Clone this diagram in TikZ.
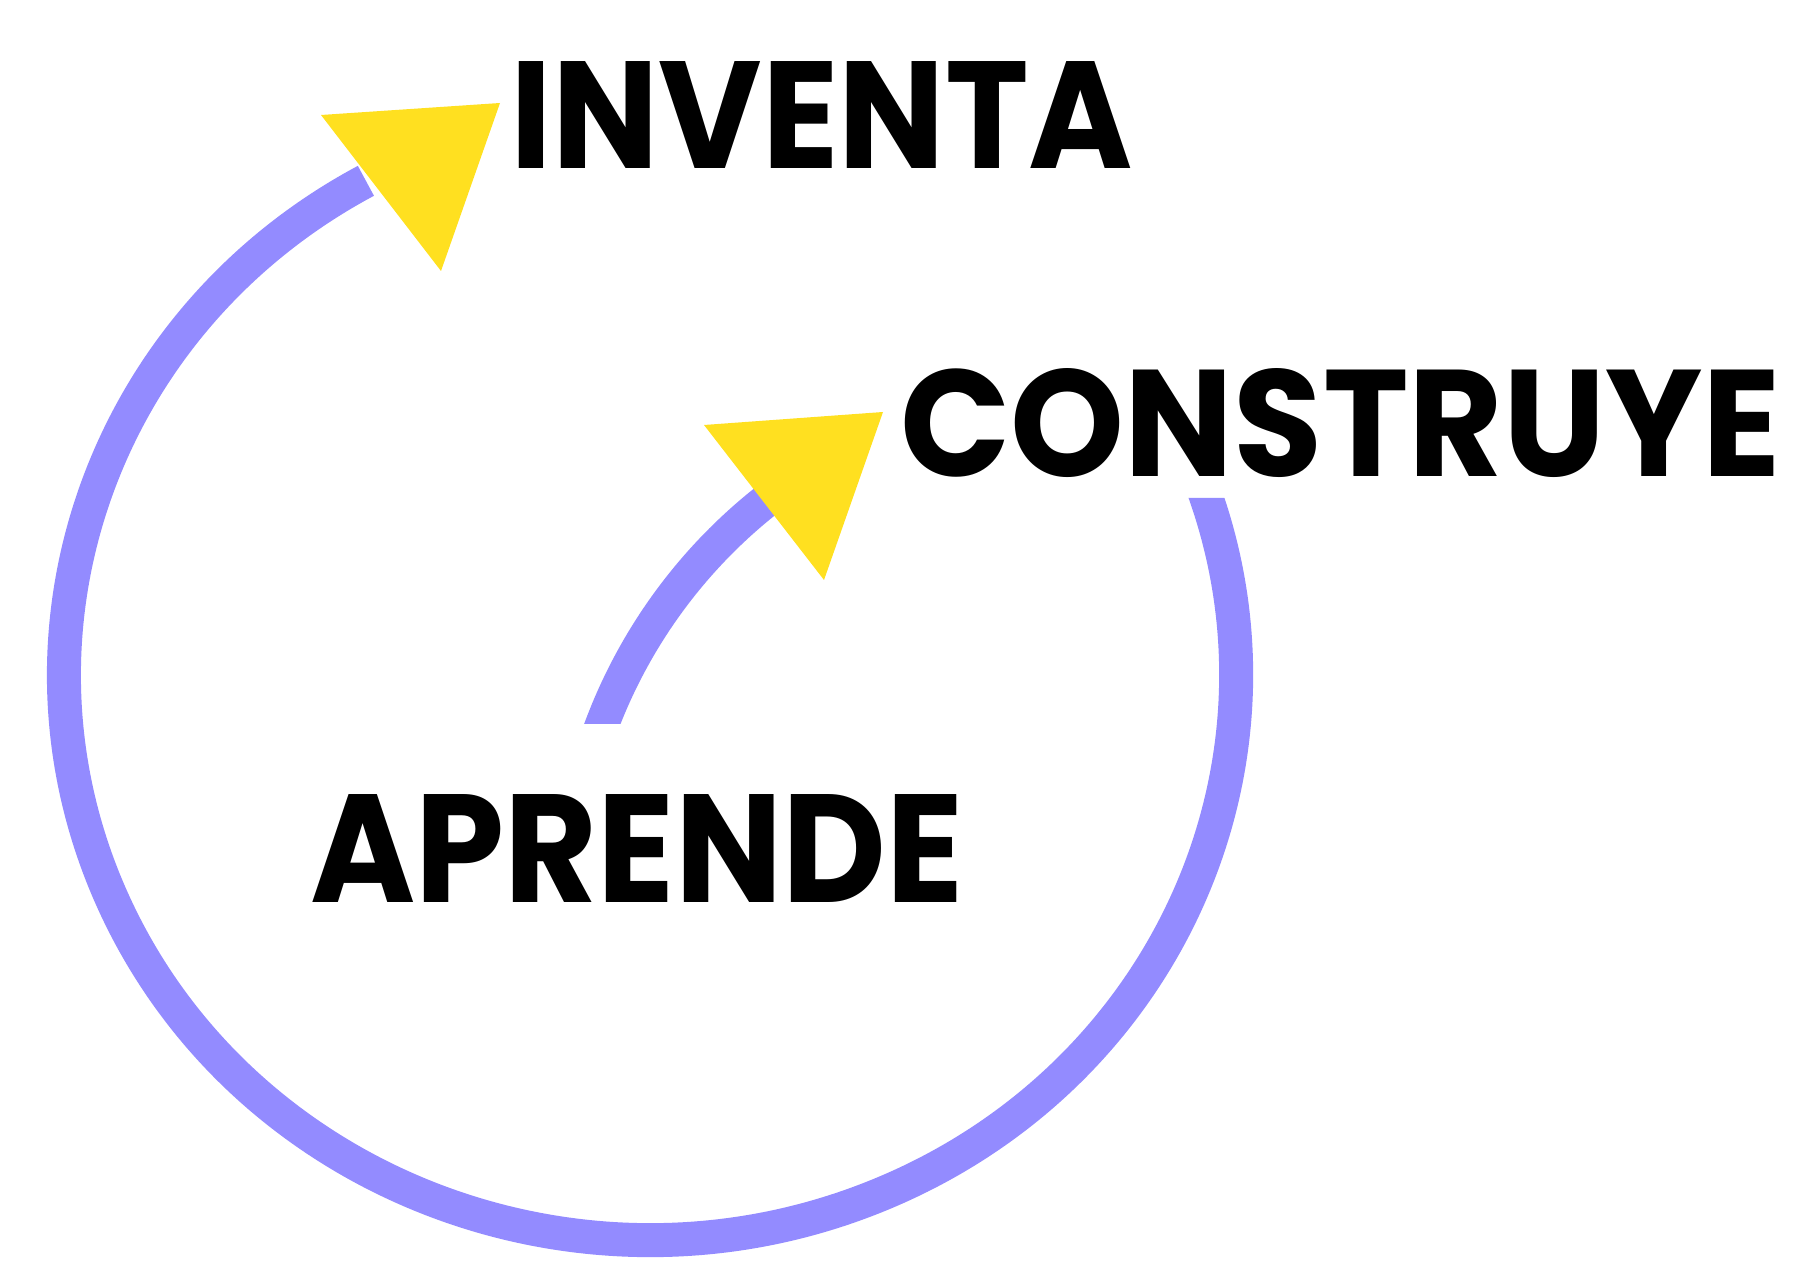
\documentclass[tikz,border=0pt]{standalone}
\usepackage{graphicx}
\usepackage{fontspec}
\setmainfont{Poppins}
\usepackage{tikz}
\definecolor{lila}{RGB}{147,139,255}
\definecolor{amarillo}{RGB}{255,224,32}
\newcommand{\palabra}[3]{\resizebox{#1}{#2}{\bfseries #3}}

\begin{document}
\begin{tikzpicture}[x=0.02cm, y=0.02cm,
    lazo/.style={draw=lila, line width=0.68cm},
    punta/.style={fill=amarillo},
    texto/.style={anchor=base west, inner sep=0pt}]
    \useasboundingbox (0, 0) rectangle (1797, 1275);
    \coordinate  (0) at (650, 600); % centre of the big loop
    \coordinate  (1) at (1090, 365); % centre of the small arc
    % big loop (flat cut at the top right)
    \begin{scope}
        \clip (0, 0) -- (1797, 0) -- (1797, 777) -- (900, 777) -- (900, 1275) -- (0, 1275) -- cycle;
        \draw [lazo] (0) ++(23:586 and 565) arc [start angle=23, end angle=-241, x radius=586, y radius=565];
    \end{scope}
    % small arc (flat cut at the bottom)
    \begin{scope}
        \clip (450, 551) rectangle (1000, 1000);
        \draw [lazo] (1) ++(163:522) arc [start angle=163, end angle=127, radius=522];
    \end{scope}
    % arrow heads
    \fill [punta] (321, 1160) -- (500, 1172) -- (441, 1004) -- cycle;
    \fill [punta] (704, 850) -- (883, 863) -- (824, 695) -- cycle;
    % words
    \node [texto] (2) at (510, 1106) {\palabra{12.46cm}{2.14cm}{INVENTA}};
    \node [texto] (3) at (900, 798) {\palabra{17.62cm}{2.16cm}{CONSTRUYE}};
    \node [texto] (4) at (310, 373) {\palabra{13.06cm}{2.16cm}{APRENDE}};
\end{tikzpicture}
\end{document}
